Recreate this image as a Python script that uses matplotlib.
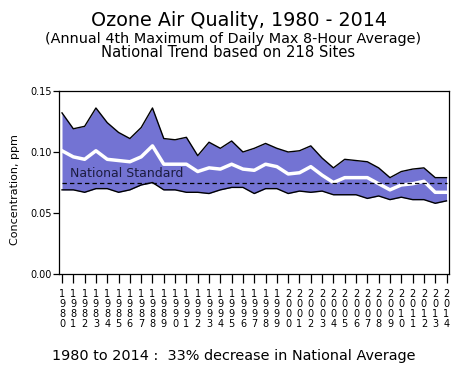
import numpy as np
import matplotlib
matplotlib.use('Agg')
import matplotlib.pyplot as plt

# ------------------------
# data
# ------------------------
years = list(range(1980, 2015))

upper = [0.132, 0.119, 0.121, 0.136, 0.124, 0.116, 0.111, 0.120, 0.136, 0.111,
         0.110, 0.112, 0.097, 0.108, 0.103, 0.109, 0.100, 0.103, 0.107, 0.103,
         0.100, 0.101, 0.105, 0.095, 0.087, 0.094, 0.093, 0.092, 0.087, 0.079,
         0.084, 0.086, 0.087, 0.079, 0.079]

mean = [0.101, 0.096, 0.094, 0.101, 0.094, 0.093, 0.092, 0.096, 0.105, 0.090,
        0.090, 0.090, 0.084, 0.087, 0.086, 0.090, 0.086, 0.085, 0.090, 0.088,
        0.082, 0.083, 0.088, 0.081, 0.075, 0.079, 0.079, 0.079, 0.074, 0.069,
        0.073, 0.074, 0.076, 0.067, 0.067]

lower = [0.069, 0.069, 0.067, 0.070, 0.070, 0.067, 0.069, 0.073, 0.075, 0.069,
         0.069, 0.067, 0.067, 0.066, 0.069, 0.071, 0.071, 0.066, 0.070, 0.070,
         0.066, 0.068, 0.067, 0.068, 0.065, 0.065, 0.065, 0.062, 0.064, 0.061,
         0.063, 0.061, 0.061, 0.058, 0.060]

standard = 0.075
yticks = [0.00, 0.05, 0.10, 0.15]

title = 'Ozone Air Quality, 1980 - 2014'
sub1 = '(Annual 4th Maximum of Daily Max 8-Hour Average)'
sub2 = 'National Trend based on 218 Sites'
footer = '1980 to 2014 :  33% decrease in National Average'

# ------------------------

plt.rcParams['font.family'] = 'DejaVu Sans'

fig = plt.figure(figsize=(4.57, 3.68), dpi=100)
ax = fig.add_axes([0.129, 0.255, 0.853, 0.498])

ax.fill_between(years, lower, upper, color='#7373d3', lw=0)
ax.plot(years, upper, color='black', lw=1)
ax.plot(years, lower, color='black', lw=1)
ax.plot(years, mean, color='white', lw=2.5)
ax.hlines(standard, years[0], years[-1], colors='black', lw=0.9,
          linestyles=(0, (3.5, 2.5)))
ax.text(years[0] + 0.7, standard + 0.0075, 'National Standard', fontsize=9,
        color='#1c1c40', va='center')

ax.set_xlim(1979.73, 2014.2)
ax.set_ylim(0, 0.15)
ax.set_yticks(yticks)
ax.set_yticklabels(['%.2f' % v for v in yticks])
ax.set_xticks(years)
ax.set_xticklabels(['\n'.join(str(y)) for y in years], linespacing=1.0)
ax.tick_params(axis='y', length=4, width=0.9, pad=1, labelsize=7)
ax.tick_params(axis='x', length=6.5, width=0.9, pad=4, labelsize=7)
for s in ax.spines.values():
    s.set_linewidth(0.9)

fig.text(0.523, 0.943, title, fontsize=13.8, ha='center', va='center')
fig.text(0.510, 0.895, sub1, fontsize=10.4, ha='center', va='center')
fig.text(0.499, 0.858, sub2, fontsize=10.6, ha='center', va='center')
fig.text(0.511, 0.033, footer, fontsize=10.4, ha='center', va='center')
fig.text(0.033, 0.486, 'Concentration, ppm', fontsize=8, rotation=90,
         ha='center', va='center')

fig.savefig('out.png', dpi=100)
